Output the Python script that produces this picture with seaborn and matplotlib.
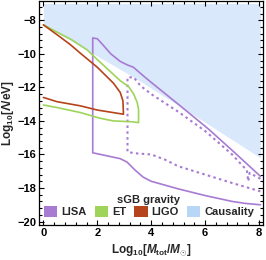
import numpy as np
import pandas as pd
import seaborn as sns
import matplotlib.pyplot as plt
from matplotlib.patches import Patch
from matplotlib.ticker import MultipleLocator, AutoMinorLocator

# Data (log10 Mtot/Msun vs log10 Lambda/eV)
causality_x = [0.0, 3.33, 5.63, 8.05]
causality_y = [-8.27, -11.37, -13.7, -16.2]

lisa_solid_x = [8.05, 7.0, 6.1, 5.0, 4.0, 3.7, 3.34, 3.1, 2.85, 2.5, 2.2, 2.0, 1.83,
                1.83, 2.85, 3.1, 3.4, 3.7, 4.0, 5.0, 6.0, 7.0, 7.5, 8.05]
lisa_solid_y = [-17.3, -15.75, -14.45, -13.0, -11.7, -11.3, -10.8, -10.65, -10.45, -10.0, -9.45, -9.1, -9.05,
                -15.9, -16.25, -16.45, -16.93, -17.35, -17.6, -18.05, -18.45, -18.8, -18.92, -19.0]

lisa_dot_x = [8.05, 7.65, 7.6, 7.55, 7.0, 6.0, 5.0, 4.0, 3.6, 3.35, 3.12,
              3.12, 3.4, 4.0, 4.5, 5.0, 6.0, 7.0, 8.05]
lisa_dot_y = [-17.45, -17.1, -17.6, -16.95, -16.0, -14.6, -13.45, -12.4, -11.9, -11.4, -11.4,
              -15.85, -15.93, -16.0, -16.3, -16.7, -17.2, -17.7, -18.2]

et_x = [0.0, 0.5, 1.05, 1.62, 2.04, 2.85, 3.16, 3.35, 3.48, 3.53, 3.53,
        3.3, 2.6, 2.1, 1.37, 0.5, 0.0]
et_y = [-8.27, -8.7, -9.16, -9.76, -10.4, -11.6, -11.95, -12.4, -12.9, -13.3, -14.1,
        -14.05, -14.0, -13.84, -13.5, -13.2, -13.05]

ligo_x = [0.0, 0.5, 1.0, 1.37, 2.0, 2.6, 2.85, 2.95, 2.97,
          2.0, 1.37, 0.5, 0.0]
ligo_y = [-8.27, -8.85, -9.45, -9.96, -10.8, -11.75, -12.3, -12.8, -13.6,
          -13.35, -13.1, -12.85, -12.6]

labels = ['LISA', 'ET', 'LIGO', 'Causality']
colors = ['#A87BD3', '#9ED45A', '#B5441A', '#B8D6F6']

sns.set_style('ticks')
plt.rcParams['font.family'] = ['Liberation Sans', 'DejaVu Sans']
plt.rcParams['font.weight'] = 'bold'
plt.rcParams['mathtext.fontset'] = 'custom'
plt.rcParams['mathtext.rm'] = 'Liberation Sans:bold'
plt.rcParams['mathtext.it'] = 'Liberation Sans:bold:italic'
plt.rcParams['mathtext.bf'] = 'Liberation Sans:bold'

fig = plt.figure(figsize=(2.66, 2.60), dpi=100)
ax = fig.add_axes([0.148, 0.135, 0.841, 0.861])

# causality region
ax.fill_between(causality_x, causality_y, -7.0, color='#D9E8FB', lw=0, zorder=0)

sns.lineplot(x=lisa_solid_x, y=lisa_solid_y, sort=False, estimator=None,
             color=colors[0], lw=1.2, ax=ax)
sns.lineplot(x=lisa_dot_x, y=lisa_dot_y, sort=False, estimator=None,
             color=colors[0], lw=1.5, ax=ax, linestyle=(0, (1.2, 1.6)))
sns.lineplot(x=et_x, y=et_y, sort=False, estimator=None,
             color=colors[1], lw=1.2, ax=ax)
sns.lineplot(x=ligo_x, y=ligo_y, sort=False, estimator=None,
             color=colors[2], lw=1.2, ax=ax)

ax.set_xlim(-0.15, 8.15)
ax.set_ylim(-20.2, -6.85)
ax.xaxis.set_minor_locator(AutoMinorLocator(5))
ax.yaxis.set_minor_locator(AutoMinorLocator(5))
ax.tick_params(which='both', direction='in', top=True, right=True, width=0.8,
               labelsize=8, pad=2, colors='black')
ax.tick_params(which='major', length=3.5)
ax.tick_params(which='minor', length=2)
ax.set_xticks([0, 2, 4, 6, 8])
ax.set_xticklabels(['0', '2', '4', '6', '8'], fontweight='bold')
ax.set_yticks([-8, -10, -12, -14, -16, -18, -20])
ax.set_yticklabels(['\u22128', '\u221210', '\u221212', '\u221214', '\u221216', '\u221218', '\u221220'],
                   fontweight='bold')
for s in ax.spines.values():
    s.set_linewidth(0.9)
    s.set_color('black')

ax.set_xlabel(r'Log$_{10}$[$M_{\mathrm{tot}}/M_{\odot}$]', fontsize=8.5, fontweight='bold', labelpad=3)
ax.set_ylabel(r'Log$_{10}$[$\Lambda$/eV]', fontsize=8.5, fontweight='bold', labelpad=1)

handles = [Patch(facecolor=c, edgecolor='none') for c in colors]
leg = ax.legend(handles, labels, title='sGB gravity', ncol=4, loc='lower center',
                bbox_to_anchor=(0.49, 0.0), frameon=False, fontsize=8,
                title_fontproperties={'weight': 'bold', 'size': 8},
                handlelength=1.2, handleheight=1.2, handletextpad=0.35,
                columnspacing=0.75, borderpad=0.2, labelspacing=0.1)
for t in leg.get_texts():
    t.set_fontweight('bold')

fig.savefig('out.png', dpi=100)
